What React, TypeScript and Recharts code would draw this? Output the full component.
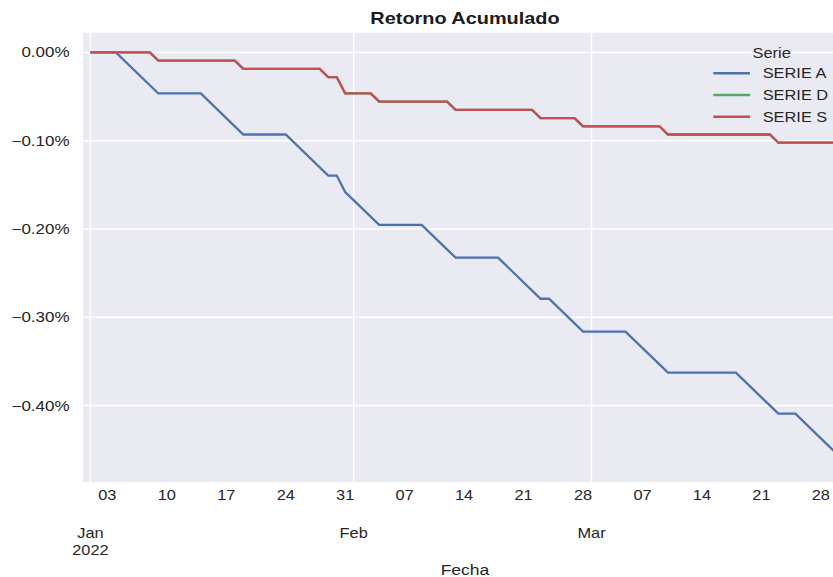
import { LineChart, Line, XAxis, YAxis, CartesianGrid, Legend } from 'recharts';

// breakpoints of each cumulative-return curve (in %)
const serieADates = [
  '2022-01-01', '2022-01-04', '2022-01-09', '2022-01-14', '2022-01-19', '2022-01-24',
  '2022-01-29', '2022-01-30', '2022-01-31', '2022-02-04', '2022-02-09', '2022-02-13',
  '2022-02-18', '2022-02-23', '2022-02-24', '2022-02-28', '2022-03-05', '2022-03-10',
  '2022-03-18', '2022-03-23', '2022-03-25', '2022-03-30',
];
const serieAValues = [
  0, 0, -0.0465, -0.0465, -0.093, -0.093,
  -0.1395, -0.1395, -0.1581, -0.1953, -0.1953, -0.2325,
  -0.2325, -0.279, -0.279, -0.3162, -0.3162, -0.3627,
  -0.3627, -0.4092, -0.4092, -0.4557,
];

const serieSDates = [
  '2022-01-01', '2022-01-08', '2022-01-09', '2022-01-18', '2022-01-19', '2022-01-28',
  '2022-01-29', '2022-01-30', '2022-01-31', '2022-02-03', '2022-02-04', '2022-02-12',
  '2022-02-13', '2022-02-22', '2022-02-23', '2022-02-27', '2022-02-28', '2022-03-09',
  '2022-03-10', '2022-03-22', '2022-03-23', '2022-03-31',
];
const serieSValues = [
  0, 0, -0.0093, -0.0093, -0.0186, -0.0186,
  -0.0279, -0.0279, -0.0465, -0.0465, -0.0558, -0.0558,
  -0.0651, -0.0651, -0.0744, -0.0744, -0.0837, -0.0837,
  -0.093, -0.093, -0.1023, -0.1023,
];

// SERIE D sits exactly under SERIE S
const serieDDates = serieSDates;
const serieDValues = [
  0, 0, -0.0093, -0.0093, -0.0186, -0.0186,
  -0.0279, -0.0279, -0.0465, -0.0465, -0.0558, -0.0558,
  -0.0651, -0.0651, -0.0744, -0.0744, -0.0837, -0.0837,
  -0.093, -0.093, -0.1023, -0.1023,
];

const minorTickDates = [
  '2022-01-03', '2022-01-10', '2022-01-17', '2022-01-24', '2022-01-31',
  '2022-02-07', '2022-02-14', '2022-02-21', '2022-02-28',
  '2022-03-07', '2022-03-14', '2022-03-21', '2022-03-28',
];
const minorTickLabels = ['03', '10', '17', '24', '31', '07', '14', '21', '28', '07', '14', '21', '28'];
const majorTickDates = ['2022-01-01', '2022-02-01', '2022-03-01'];
const majorTickLabels = [['Jan', '2022'], ['Feb'], ['Mar']];
const yTicks = [0, -0.1, -0.2, -0.3, -0.4];

const FONT = '"Liberation Sans", Arial, sans-serif';
const TEXT = '#262626';
const SX = 1.17; // the picture's text is a little wider than tall
const COLORS = { A: '#4C72B0', D: '#55A868', S: '#C44E52' };

const ORIGIN = Date.parse('2022-01-01T00:00:00Z');
const dayIndex = (d: string) => Math.round((Date.parse(d + 'T00:00:00Z') - ORIGIN) / 86400000);

const toPoints = (dates: string[], values: number[]) =>
  dates.map((d, i) => ({ d: dayIndex(d), v: values[i] }));

const dataA = toPoints(serieADates, serieAValues);
const dataD = toPoints(serieDDates, serieDValues);
const dataS = toPoints(serieSDates, serieSValues);

const minorDays = minorTickDates.map(dayIndex);
const majorDays = majorTickDates.map(dayIndex);
const xTicks = [...minorDays, ...majorDays].sort((a, b) => a - b);

const fmtPct = (v: number) => {
  const s = Math.abs(v).toFixed(2) + '%';
  return v < -1e-9 ? '\u2212' + s : s;
};

const XTick = (props: any) => {
  const { x, y, payload } = props;
  const mi = majorDays.indexOf(payload.value);
  if (mi >= 0) {
    return (
      <g transform={`translate(${x},${y})`}>
        {majorTickLabels[mi].map((t, k) => (
          <text key={k} transform={`scale(${SX},1)`} x={0} y={55 + k * 17} textAnchor="middle"
            fill={TEXT} fontSize={14} fontFamily={FONT}>{t}</text>
        ))}
      </g>
    );
  }
  const i = minorDays.indexOf(payload.value);
  return (
    <g transform={`translate(${x},${y})`}>
      <text transform={`scale(${SX},1)`} x={0} y={17.5} textAnchor="middle"
        fill={TEXT} fontSize={14} fontFamily={FONT}>{i >= 0 ? minorTickLabels[i] : ''}</text>
    </g>
  );
};

const YTick = (props: any) => {
  const { x, y, payload } = props;
  return (
    <g transform={`translate(${x - 13.5},${y})`}>
      <text transform={`scale(${SX},1)`} x={0} y={5} textAnchor="end"
        fill={TEXT} fontSize={14.5} fontFamily={FONT}>{fmtPct(payload.value)}</text>
    </g>
  );
};

const LegendBox = (props: any) => {
  const payload = props.payload || [];
  return (
    <svg width={133} height={100} style={{ display: 'block' }}>
      <text transform={`translate(71.7,22.5) scale(${SX},1)`} textAnchor="middle"
        fill={TEXT} fontSize={14} fontFamily={FONT}>Serie</text>
      {payload.map((p: any, i: number) => {
        const cy = 38.3 + i * 21.7;
        return (
          <g key={i}>
            <line x1={13.3} x2={50} y1={cy} y2={cy} stroke={p.color} strokeWidth={2.5} />
            <text transform={`translate(62.7,${cy + 5}) scale(${SX},1)`}
              fill={TEXT} fontSize={14} fontFamily={FONT}>{p.value}</text>
          </g>
        );
      })}
    </svg>
  );
};

export default function App() {
  return (
    <div style={{ position: 'absolute', left: 0, top: 0, width: 833, height: 577, background: '#fff', overflow: 'hidden' }}>
      <LineChart width={833} height={577} margin={{ top: 32, right: 0, bottom: 0, left: 0 }}>
        <CartesianGrid fill="#EAEAF2" fillOpacity={1} stroke="#ffffff" strokeWidth={1.5}
          verticalValues={majorDays} />
        <XAxis dataKey="d" type="number" domain={[-0.87, 87.43]} allowDataOverflow
          ticks={xTicks} interval={0} tick={<XTick />} tickLine={false} axisLine={false}
          tickSize={0} tickMargin={0} height={94} />
        <YAxis type="number" domain={[-0.4877, 0.0231]} allowDataOverflow ticks={yTicks}
          tick={<YTick />} tickLine={false} axisLine={false} tickSize={0} tickMargin={0} width={83} />
        <Legend layout="horizontal" verticalAlign="middle" align="center" content={<LegendBox />}
          wrapperStyle={{ position: 'absolute', left: 700, top: 35, width: 133, height: 100 }} />
        <Line data={dataA} dataKey="v" name="SERIE A" type="linear" stroke={COLORS.A}
          strokeWidth={2.3} dot={false} isAnimationActive={false} />
        <Line data={dataD} dataKey="v" name="SERIE D" type="linear" stroke={COLORS.D}
          strokeWidth={2.3} dot={false} isAnimationActive={false} />
        <Line data={dataS} dataKey="v" name="SERIE S" type="linear" stroke={COLORS.S}
          strokeWidth={2.3} dot={false} isAnimationActive={false} />
      </LineChart>
      <svg width={833} height={577} style={{ position: 'absolute', left: 0, top: 0, pointerEvents: 'none' }}>
        <text transform={`translate(465,24) scale(${SX},1)`} textAnchor="middle" fill="#1a1a1a"
          fontSize={17} fontWeight="bold" fontFamily={FONT}>Retorno Acumulado</text>
        <text transform={`translate(465,575) scale(${SX},1)`} textAnchor="middle" fill={TEXT}
          fontSize={15} fontFamily={FONT}>Fecha</text>
      </svg>
    </div>
  );
}
